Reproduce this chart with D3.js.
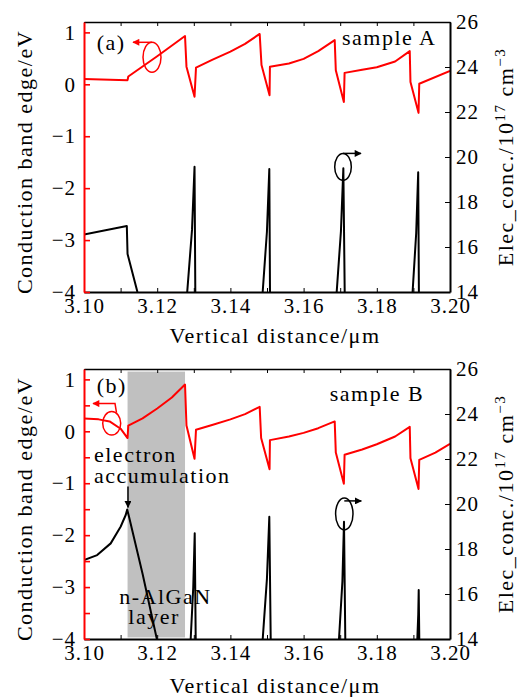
<!DOCTYPE html>
<html>
<head>
<meta charset="utf-8">
<script src="https://cdn.jsdelivr.net/npm/d3@7"></script>
<style>
  body { margin: 0; background: #fff; }
  text { font-family: "Liberation Serif", "Times New Roman", serif; }
</style>
</head>
<body>
<div class="container"></div>
<script>
// ---- data ----
const xTicks = [3.10, 3.11, 3.12, 3.13, 3.14, 3.15, 3.16, 3.17, 3.18, 3.19, 3.20];
const xTickLabels = ["3.10", "", "3.12", "", "3.14", "", "3.16", "", "3.18", "", "3.20"];
const cbTicksA = [-4, -3, -2, -1, 0, 1];
const cbTicksB = [-4, -3.5, -3, -2.5, -2, -1.5, -1, -0.5, 0, 0.5, 1];
const neTicks = [14, 16, 18, 20, 22, 24, 26];

// sample A, conduction band edge (eV)
const xCbA = [3.1000, 3.1119, 3.1121, 3.1200, 3.1276, 3.1280, 3.1302, 3.1306, 3.1350, 3.1400, 3.1440, 3.1480,
  3.1485, 3.1507, 3.1508, 3.1560, 3.1600, 3.1640, 3.1685, 3.1688, 3.1710, 3.1712, 3.1760, 3.1800, 3.1850,
  3.1890, 3.1892, 3.1914, 3.1916, 3.2000];
const cbA = [0.10, 0.08, 0.15, 0.54, 0.93, 0.34, -0.24, 0.32, 0.47, 0.63, 0.78, 0.97,
  0.37, -0.21, 0.34, 0.40, 0.49, 0.64, 0.85, 0.27, -0.34, 0.22, 0.28, 0.33, 0.44,
  0.64, 0.045, -0.55, 0.01, 0.26];

// sample A, electron concentration (1e17 cm^-3), null = off the chart
const xNeA = [3.1000, 3.1117, 3.1119, 3.1146, null,
  3.1282, 3.12951, 3.1302, 3.13041, null,
  3.14882, 3.14998, 3.15063, 3.15082, null,
  3.16904, 3.17020, 3.17086, 3.17123, null,
  3.18978, 3.19076, 3.19131, 3.19150];
const neA = [16.56, 16.93, 15.69, 14.0, null,
  14.0, 16.76, 19.57, 14.0, null,
  14.0, 16.68, 19.47, 14.0, null,
  14.0, 16.70, 19.50, 14.0, null,
  14.0, 16.61, 19.32, 14.0];

// sample B, conduction band edge (eV)
const xCbB = [3.1000, 3.1040, 3.1070, 3.1100, 3.1119, 3.1121, 3.1160, 3.1200, 3.1240, 3.1276, 3.1280, 3.1302,
  3.1306, 3.1350, 3.1400, 3.1440, 3.1480, 3.1484, 3.1507, 3.1508, 3.1560, 3.1600, 3.1640, 3.1685,
  3.1688, 3.1710, 3.1712, 3.1760, 3.1800, 3.1850, 3.1890, 3.1892, 3.1914, 3.1916, 3.1960, 3.2000];
const cbB = [0.245, 0.23, 0.19, 0.05, -0.13, 0.11, 0.25, 0.44, 0.65, 0.90, 0.11, -0.53,
  0.03, 0.12, 0.23, 0.33, 0.47, -0.13, -0.73, -0.17, -0.10, -0.03, 0.06, 0.19,
  -0.41, -1.01, -0.45, -0.35, -0.25, -0.10, 0.085, -0.52, -1.11, -0.55, -0.41, -0.24];

// sample B, electron concentration
const xNeB = [3.1000, 3.1036, 3.1073, 3.1100, 3.1114, 3.1118, 3.1123, 3.1160, 3.1199, null,
  3.12915, 3.12985, 3.13025, 3.13052, null,
  3.14883, 3.14998, 3.15063, 3.15101, null,
  3.16967, 3.17060, 3.17104, 3.17139, null,
  3.19107, 3.19133, 3.19145, 3.19161];
const neB = [17.51, 17.73, 18.25, 18.99, 19.51, 19.76, 19.43, 16.9, 14.0, null,
  14.0, 16.3, 18.7, 14.0, null,
  14.0, 16.67, 19.43, 14.0, null,
  14.0, 16.55, 19.21, 14.0, null,
  14.0, 15.1, 16.18, 14.0];

// n-AlGaN layer band in panel (b)
const layerX = [3.1119, 3.1276];
const layerY = [-3.97, 1.15];

const W = 518, H = 697;
const left = 84, right = 450;
const FS = 22;      // label font size
const LS = 1.5;     // letter spacing to get the wide TeX look

const svg = d3.select(".container").append("svg")
  .attr("width", W)
  .attr("height", H);

const defs = svg.append("defs");
[["arrRed", "red"], ["arrBlack", "black"]].forEach(([id, c]) => {
  defs.append("marker")
    .attr("id", id)
    .attr("viewBox", "0 0 10 10")
    .attr("refX", 9).attr("refY", 5)
    .attr("markerWidth", 9).attr("markerHeight", 7)
    .attr("markerUnits", "userSpaceOnUse")
    .attr("orient", "auto")
    .append("path")
    .attr("d", "M0,0L10,5L0,10z")
    .attr("fill", c);
});

const panels = [
  {id: "a", top: 22, bottom: 292, xCb: xCbA, cb: cbA, xNe: xNeA, ne: neA, cbTicks: cbTicksA,
   label: "(a)", sample: "sample A", xTitleY: 343},
  {id: "b", top: 369, bottom: 639, xCb: xCbB, cb: cbB, xNe: xNeB, ne: neB, cbTicks: cbTicksB,
   label: "(b)", sample: "sample B", xTitleY: 693}
];

function label(g, x, y, txt) {
  return g.append("text")
    .attr("x", x).attr("y", y)
    .attr("font-size", FS)
    .attr("letter-spacing", LS)
    .text(txt);
}

panels.forEach(p => {
  const x = d3.scaleLinear().domain([3.10, 3.20]).range([left, right]);
  const yL = d3.scaleLinear().domain([-4, 1.2]).range([p.bottom, p.top]);
  const yR = d3.scaleLinear().domain([14, 26]).range([p.bottom, p.top]);

  defs.append("clipPath").attr("id", "clip" + p.id)
    .append("rect")
    .attr("x", left).attr("y", p.top)
    .attr("width", right - left).attr("height", p.bottom - p.top);

  const g = svg.append("g");

  // grey layer (panel b only)
  if (p.id === "b") {
    g.append("rect")
      .attr("x", x(layerX[0]))
      .attr("y", yL(layerY[1]))
      .attr("width", x(layerX[1]) - x(layerX[0]))
      .attr("height", yL(layerY[0]) - yL(layerY[1]))
      .attr("fill", "#c0c0c0");
  }

  const plot = g.append("g").attr("clip-path", `url(#clip${p.id})`);

  const lineL = d3.line().defined(d => d[1] != null).x(d => x(d[0])).y(d => yL(d[1]));
  const lineR = d3.line().defined(d => d[1] != null).x(d => x(d[0])).y(d => yR(d[1]));

  plot.append("path")
    .datum(d3.zip(p.xNe, p.ne))
    .attr("d", lineR)
    .attr("fill", "none").attr("stroke", "black")
    .attr("stroke-width", 2).attr("stroke-linejoin", "round");

  plot.append("path")
    .datum(d3.zip(p.xCb, p.cb))
    .attr("d", lineL)
    .attr("fill", "none").attr("stroke", "red")
    .attr("stroke-width", 2).attr("stroke-linejoin", "round");

  // axes
  const fontIt = sel => sel.selectAll("text")
    .attr("font-family", null)
    .attr("font-size", 21)
    .attr("letter-spacing", 1)
    .attr("fill", "black");

  g.append("g")
    .attr("transform", `translate(0,${p.bottom})`)
    .call(d3.axisBottom(x).tickValues(xTicks).tickSizeInner(-4).tickSizeOuter(0).tickPadding(6.5)
      .tickFormat((d, i) => xTickLabels[i]))
    .call(fontIt)
    .call(s => s.select(".domain").attr("stroke-width", 2));

  g.append("g")
    .attr("transform", `translate(0,${p.top})`)
    .call(d3.axisTop(x).tickValues(xTicks).tickSizeInner(-4).tickSizeOuter(0).tickFormat(""))
    .call(s => s.select(".domain").attr("stroke-width", 1.6));

  g.append("g")
    .attr("transform", `translate(${right},0)`)
    .call(d3.axisRight(yR).tickValues(neTicks).tickSizeInner(-5).tickSizeOuter(0).tickPadding(6)
      .tickFormat(d3.format("d")))
    .call(fontIt)
    .call(s => s.select(".domain").attr("stroke-width", 2));

  g.append("g")
    .attr("transform", `translate(${left},0)`)
    .call(d3.axisLeft(yL).tickValues(p.cbTicks).tickSizeInner(-6).tickSizeOuter(0).tickPadding(8)
      .tickFormat(d => Number.isInteger(d) ? d3.format("d")(d) : ""))
    .call(fontIt)
    .call(s => s.select(".domain").attr("stroke", "red").attr("stroke-width", 2))
    .call(s => s.selectAll(".tick line").attr("stroke", "red").attr("stroke-width", 1.6));

  // axis titles
  label(g, 275, p.xTitleY, "Vertical distance/μm").attr("text-anchor", "middle");

  const mid = (p.top + p.bottom) / 2;
  label(g, 0, 0, "Conduction band edge/eV")
    .attr("transform", `translate(32,${mid + 5}) rotate(-90)`)
    .attr("text-anchor", "middle");

  const rt = g.append("text")
    .attr("transform", `translate(513,${mid}) rotate(-90)`)
    .attr("text-anchor", "middle")
    .attr("font-size", FS).attr("letter-spacing", LS);
  rt.append("tspan").text("Elec_conc./10");
  rt.append("tspan").attr("font-size", 15).attr("dy", -8).text("17");
  rt.append("tspan").attr("dy", 8).text(" cm");
  rt.append("tspan").attr("font-size", 15).attr("dy", -8).text("−3");

  // panel labels
  label(g, x(3.10347), yL(p.id === "a" ? 0.655 : 0.738), p.label);
  label(g, x(p.id === "a" ? 3.17049 : 3.16713), yL(p.id === "a" ? 0.75 : 0.59), p.sample);

  // ellipse markers with arrows
  if (p.id === "a") {
    const cx = x(3.11858), cy = yL(0.52), rx = 9, ry = 15;
    g.append("ellipse").attr("cx", cx).attr("cy", cy).attr("rx", rx).attr("ry", ry)
      .attr("fill", "none").attr("stroke", "red").attr("stroke-width", 1.5);
    g.append("path").attr("d", `M${cx},${cy - ry}L${cx - 19},${cy - ry}`)
      .attr("stroke", "red").attr("stroke-width", 1.5).attr("marker-end", "url(#arrRed)");

    const bx = x(3.17077), by = yR(19.56), brx = 8.3, bry = 13.5;
    g.append("ellipse").attr("cx", bx).attr("cy", by).attr("rx", brx).attr("ry", bry)
      .attr("fill", "none").attr("stroke", "black").attr("stroke-width", 1.5);
    g.append("path").attr("d", `M${bx},${by - bry}L${bx + 18},${by - bry}`)
      .attr("stroke", "black").attr("stroke-width", 1.5).attr("marker-end", "url(#arrBlack)");
  } else {
    const cx = x(3.10757), cy = yL(0.154), rx = 9, ry = 11.7;
    g.append("ellipse").attr("cx", cx).attr("cy", cy).attr("rx", rx).attr("ry", ry)
      .attr("fill", "none").attr("stroke", "red").attr("stroke-width", 1.5);
    g.append("path")
      .attr("d", `M${cx + 4.8},${cy - ry + 1}L${cx + 3.3},${cy - ry - 8}L${cx - 18.7},${cy - ry - 8}`)
      .attr("fill", "none")
      .attr("stroke", "red").attr("stroke-width", 1.5).attr("marker-end", "url(#arrRed)");

    const bx = x(3.17112), by = yR(19.56), brx = 8.7, bry = 16;
    g.append("ellipse").attr("cx", bx).attr("cy", by).attr("rx", brx).attr("ry", bry)
      .attr("fill", "none").attr("stroke", "black").attr("stroke-width", 1.5);
    g.append("path").attr("d", `M${bx},${by - bry + 3}L${bx + 17},${by - bry + 3}`)
      .attr("stroke", "black").attr("stroke-width", 1.5).attr("marker-end", "url(#arrBlack)");

    // electron accumulation
    label(g, x(3.10273), yL(-0.586), "electron");
    label(g, x(3.10273), yL(-0.996), "accumulation");
    const ax = x(3.11202), ay = yR(19.76) - 2;
    g.append("path").attr("d", `M${ax},${ay - 21}L${ax},${ay}`)
      .attr("stroke", "black").attr("stroke-width", 1.5).attr("marker-end", "url(#arrBlack)");

    label(g, x(3.10964), yL(-3.33), "n-AlGaN");
    label(g, x(3.1121), yL(-3.72), "layer");
  }
});
</script>
</body>
</html>
